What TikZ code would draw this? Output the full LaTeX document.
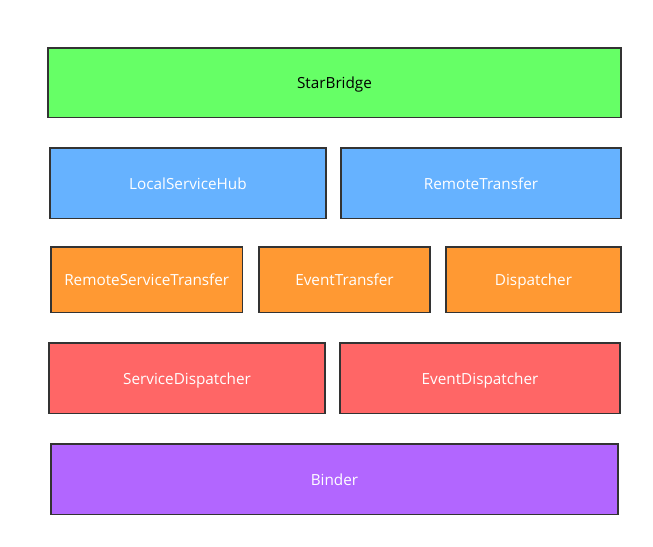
\documentclass[tikz,border=0pt]{standalone}
\usepackage{fontspec}
\setmainfont{Open Sans}
\definecolor{cgreen}{HTML}{66FF66}
\definecolor{cblue}{HTML}{66B2FF}
\definecolor{corange}{HTML}{FF9933}
\definecolor{cred}{HTML}{FF6666}
\definecolor{cpurple}{HTML}{B266FF}
\definecolor{cborder}{HTML}{333333}
\begin{document}
\begin{tikzpicture}[x=1bp,y=-1bp,
  layer/.style={draw=cborder, line width=1.6bp, rectangle, inner sep=0pt, outer sep=0pt,
    text=white, font=\fontsize{15.3bp}{17bp}\selectfont, text height=1.2em, text depth=0em},
  green/.style={layer, fill=cgreen, text=black},
  blue/.style={layer, fill=cblue},
  orange/.style={layer, fill=corange},
  red/.style={layer, fill=cred},
  purple/.style={layer, fill=cpurple}]
\useasboundingbox (0,0) rectangle (653,547);
\newcommand{\lbox}[7]{\node[#1, minimum width={(#5-#3)*1bp}, minimum height={(#6-#4)*1bp}] (#2) at ({(#3+#5)/2},{(#4+#6)/2}) {#7};}
\lbox{green}{sb}{48}{48}{621}{117.5}{StarBridge}
\lbox{blue}{lsh}{50}{148}{326}{218.5}{LocalServiceHub}
\lbox{blue}{rt}{341}{148}{621}{218.5}{RemoteTransfer}
\lbox{orange}{rst}{51}{247}{242.5}{312.5}{RemoteServiceTransfer}
\lbox{orange}{et}{259}{247}{430}{312.5}{EventTransfer}
\lbox{orange}{dp}{446}{247}{621}{312.5}{Dispatcher}
\lbox{red}{sd}{49}{343}{325}{413.5}{ServiceDispatcher}
\lbox{red}{ed}{340}{343}{620}{413.5}{EventDispatcher}
\lbox{purple}{bd}{51}{444}{618}{514.5}{Binder}
\end{tikzpicture}
\end{document}
